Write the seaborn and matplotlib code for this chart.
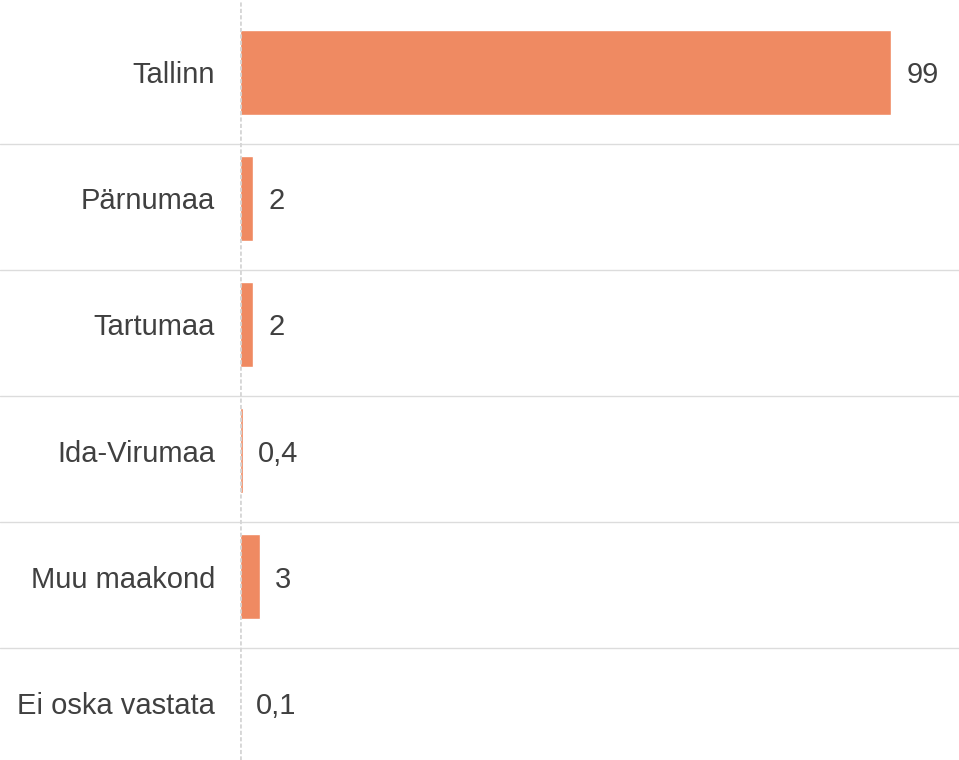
import pandas as pd
import seaborn as sns
import matplotlib.pyplot as plt

# regions and shares
regions = ["Tallinn", "Pärnumaa", "Tartumaa", "Ida-Virumaa", "Muu maakond", "Ei oska vastata"]
values = [99, 2, 2, 0.4, 3, 0.1]
value_labels = ["99", "2", "2", "0,4", "3", "0,1"]

df = pd.DataFrame({"region": regions, "value": values})

sns.set_style("white")
plt.rcParams["font.family"] = ["Liberation Sans", "DejaVu Sans"]

fig = plt.figure(figsize=(9.59, 7.6), dpi=100)
left = 240 / 959
ax = fig.add_axes([left, 0, 1 - left, 1])

sns.barplot(data=df, y="region", x="value", orient="h", color="#EF8A62",
            saturation=1, width=0.675, ax=ax)

ax.set_xlim(0, 719 / 6.576)
ax.set_ylim(5.456, -0.575)

# value labels next to bars
texts = ax.bar_label(ax.containers[0], labels=value_labels, padding=11,
                     fontsize=21, color="#404040")
for t in texts:
    t.set_verticalalignment("center_baseline")

# separators across the whole width, also under the category labels
for i in range(len(regions) - 1):
    ax.axhline(i + 0.57, xmin=-left / (1 - left), xmax=1, color="#DCDCDC",
               linewidth=1, clip_on=False, zorder=0)

# dashed axis line at zero
ax.axvline(0, color="#D6D6D6", linewidth=2, linestyle=(0, (1.5, 0.8)), zorder=3)

for s in ax.spines.values():
    s.set_visible(False)
ax.set_xticks([])
ax.set_xlabel("")
ax.set_ylabel("")
ax.tick_params(axis="y", length=0, pad=18, labelsize=21, labelcolor="#404040")

fig.savefig("out.png", dpi=100)
